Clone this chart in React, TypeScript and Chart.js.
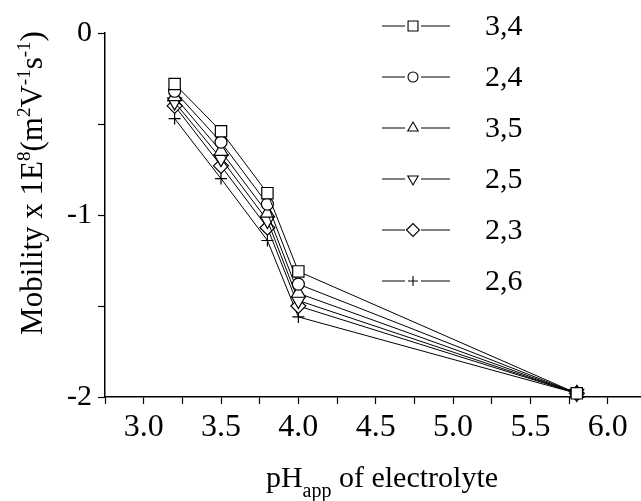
import React, { useEffect, useRef } from 'react';
import { Chart, registerables } from 'chart.js';
import { drawPoint } from 'chart.js/helpers';

Chart.register(...registerables);

// ---- data ----
const phValues = [3.2, 3.5, 3.8, 4.0, 5.8];
const seriesLabels = ['3,4', '2,4', '3,5', '2,5', '2,3', '2,6'];
const s34 = [-0.28, -0.54, -0.88, -1.31, -1.98];
const s24 = [-0.32, -0.6, -0.94, -1.38, -1.98];
const s35 = [-0.35, -0.65, -0.99, -1.43, -1.98];
const s25 = [-0.38, -0.69, -1.03, -1.47, -1.98];
const s23 = [-0.4, -0.73, -1.07, -1.5, -1.98];
const s26 = [-0.47, -0.8, -1.14, -1.56, -1.98];
const seriesValues = [s34, s24, s35, s25, s23, s26];

const xMin = 2.75;
const xMax = 6.215;
const yMin = -2;
const yMax = 0;

// ---- styles ----
const FONT = '"Liberation Serif", "Times New Roman", serif';
const markerStyles = ['rect', 'circle', 'triangle', 'triangle', 'rectRot', 'cross'];
const markerRotations = [0, 0, 0, 180, 0, 0];
const plotRadii = [8, 6, 8, 8, 7.5, 6];
const legendRadii = [7, 5, 6, 6, 6.5, 5];

const legendPlugin = {
  id: 'customLegend',
  afterDraw(chart: any) {
    const ctx = chart.ctx;
    ctx.save();
    chart.data.datasets.forEach((ds: any, i: number) => {
      const y = 26 + i * 51;
      ctx.strokeStyle = '#000';
      ctx.lineWidth = 1;
      ctx.beginPath();
      ctx.moveTo(382, y);
      ctx.lineTo(405, y);
      ctx.moveTo(421, y);
      ctx.lineTo(450, y);
      ctx.stroke();
      ctx.fillStyle = '#fff';
      ctx.strokeStyle = '#000';
      ctx.lineWidth = 1.1;
      drawPoint(ctx, {
        pointStyle: markerStyles[i],
        rotation: markerRotations[i],
        radius: legendRadii[i],
        borderWidth: 1.1,
      } as any, 413, y);
      ctx.fillStyle = '#000';
      ctx.font = `30px ${FONT}`;
      ctx.textAlign = 'left';
      ctx.textBaseline = 'middle';
      ctx.fillText(ds.label, 485, y + 1);
    });
    ctx.restore();
  },
};

function drawSegments(ctx: any, segs: { t: string; size: number; dy: number }[], startX: number, baseY: number) {
  let x = startX;
  for (const s of segs) {
    ctx.font = `${s.size}px ${FONT}`;
    ctx.fillText(s.t, x, baseY + s.dy);
    x += ctx.measureText(s.t).width;
  }
}
function measureSegments(ctx: any, segs: { t: string; size: number; dy: number }[]) {
  let w = 0;
  for (const s of segs) {
    ctx.font = `${s.size}px ${FONT}`;
    w += ctx.measureText(s.t).width;
  }
  return w;
}

const titlesPlugin = {
  id: 'customTitles',
  afterDraw(chart: any) {
    const ctx = chart.ctx;
    ctx.save();
    ctx.fillStyle = '#000';
    ctx.textAlign = 'left';
    ctx.textBaseline = 'alphabetic';
    // x title
    const xs = [
      { t: 'pH', size: 30, dy: 0 },
      { t: 'app', size: 20, dy: 10 },
      { t: ' of electrolyte', size: 30, dy: 0 },
    ];
    const xw = measureSegments(ctx, xs);
    drawSegments(ctx, xs, 382 - xw / 2, 487);
    // y title
    const ys = [
      { t: 'Mobility x 1E', size: 31, dy: 0 },
      { t: '8', size: 19, dy: -12 },
      { t: '(m', size: 31, dy: 0 },
      { t: '2', size: 19, dy: -12 },
      { t: 'V', size: 31, dy: 0 },
      { t: '-1', size: 19, dy: -12 },
      { t: 's', size: 31, dy: 0 },
      { t: '-1', size: 19, dy: -12 },
      { t: ')', size: 31, dy: 0 },
    ];
    const yw = measureSegments(ctx, ys);
    ctx.translate(42, 183);
    ctx.rotate(-Math.PI / 2);
    drawSegments(ctx, ys, -yw / 2, 0);
    ctx.restore();
  },
};

export default function App() {
  const ref = useRef<HTMLCanvasElement>(null);
  useEffect(() => {
    document.body.style.margin = '0';
    if (!ref.current) return;
    const datasets = seriesValues.map((vals, i) => ({
      label: seriesLabels[i],
      data: vals.map((y, j) => ({ x: phValues[j], y })),
      borderColor: '#000',
      borderWidth: 1,
      backgroundColor: '#fff',
      pointStyle: markerStyles[i],
      pointRotation: markerRotations[i],
      pointRadius: plotRadii[i],
      pointBorderColor: '#000',
      pointBackgroundColor: '#fff',
      pointBorderWidth: 1.2,
      tension: 0,
      fill: false,
      clip: false,
    }));
    const chart = new Chart(ref.current, {
      type: 'line',
      data: { datasets },
      options: {
        responsive: false,
        animation: false,
        devicePixelRatio: 1,
        layout: { autoPadding: false, padding: { top: 33, left: 0, right: 0, bottom: 0 } },
        plugins: { legend: { display: false }, tooltip: { enabled: false } },
        scales: {
          x: {
            type: 'linear',
            min: xMin,
            max: xMax,
            border: { display: true, color: '#000', width: 1.5 },
            grid: { drawOnChartArea: false, drawTicks: true, tickLength: 7, color: '#000', tickWidth: 1.2 },
            ticks: {
              stepSize: 0.25,
              includeBounds: false,
              autoSkip: false,
              maxRotation: 0,
              color: '#000',
              padding: 4,
              font: { family: FONT, size: 32 },
              callback: (v: any) => {
                const n = Number(v);
                return Math.abs(n * 2 - Math.round(n * 2)) < 1e-6 && n >= 3 ? n.toFixed(1) : '';
              },
            },
            afterFit: (s: any) => {
              s.height = 104;
              s.paddingLeft = 0;
              s.paddingRight = 0;
            },
          },
          y: {
            type: 'linear',
            min: yMin,
            max: yMax,
            border: { display: true, color: '#000', width: 1.5 },
            grid: { drawOnChartArea: false, drawTicks: true, tickLength: 7, color: '#000', tickWidth: 1.2 },
            ticks: {
              stepSize: 0.5,
              color: '#000',
              padding: 6,
              font: { family: FONT, size: 30 },
              callback: (v: any) => {
                const n = Number(v);
                return Number.isInteger(n) ? String(n) : '';
              },
            },
            afterFit: (s: any) => {
              s.width = 105;
              s.paddingTop = 0;
              s.paddingBottom = 0;
            },
          },
        },
      },
      plugins: [legendPlugin, titlesPlugin],
    } as any);
    return () => chart.destroy();
  }, []);
  return (
    <div style={{ width: 641, height: 501, background: '#fff' }}>
      <canvas ref={ref} width={641} height={501} style={{ display: 'block' }} />
    </div>
  );
}
